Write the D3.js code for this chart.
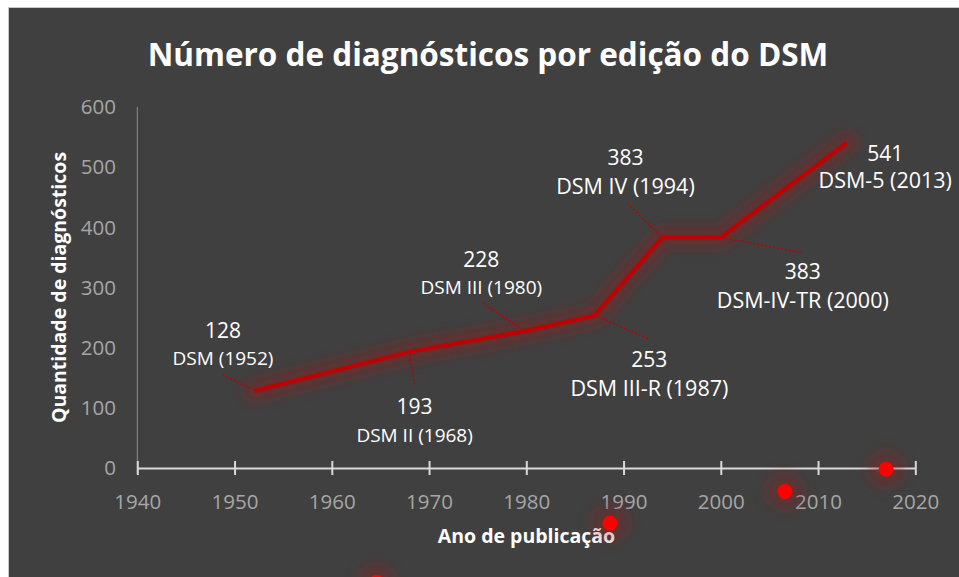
<!DOCTYPE html>
<html>
<head>
<meta charset="utf-8">
<script src="https://cdn.jsdelivr.net/npm/d3@7"></script>
<style>
  body { margin: 0; background: #fff; overflow: hidden; }
  svg { display: block; font-family: "Open Sans", sans-serif; }
</style>
</head>
<body>
<div id="chart"></div>
<script>
// data
var years = [1952, 1968, 1980, 1987, 1994, 2000, 2013];
var counts = [128, 193, 228, 253, 383, 383, 541];
var editions = ["DSM (1952)", "DSM II (1968)", "DSM III (1980)", "DSM III-R (1987)",
                "DSM IV (1994)", "DSM-IV-TR (2000)", "DSM-5 (2013)"];
// stray red markers of the second series
var dotYears = [1964.6, 1988.6, 2006.6, 2017];
var dotValues = [-190, -92, -39, -2];
var xTicks = [1940, 1950, 1960, 1970, 1980, 1990, 2000, 2010, 2020];
var yTicks = [0, 100, 200, 300, 400, 500, 600];

// label placement (pixel offsets from the point): dx, number baseline, name baseline, name size, leader
var labelPos = [
  {dx: -31, ny: -53, ey: -26, fs: 19, lead: [[-31, -16], [-2, -2]]},
  {dx: 5, ny: 62, ey: 90, fs: 19, lead: [[0, 3], [5, 33]]},
  {dx: -45, ny: -64, ey: -37, fs: 19, lead: [[-44, -28], [-3, -1]]},
  {dx: 55, ny: 51, ey: 80, fs: 21.5, lead: [[4, 1], [54, 23]]},
  {dx: -37, ny: -73, ey: -44, fs: 21.5, lead: [[-35, -34], [-2, -2]]},
  {dx: 82, ny: 41, ey: 70, fs: 21.5, lead: [[1, 0], [81, 15]]},
  {dx: 38, ny: 19, ey: 46, fs: 21.5, lead: null}
];

var W = 959, H = 577;
var svg = d3.select("#chart").append("svg")
  .attr("width", W).attr("height", H);

var defs = svg.append("defs");
defs.append("filter").attr("id", "glow")
  .attr("x", "-20%").attr("y", "-20%").attr("width", "140%").attr("height", "140%")
  .append("feGaussianBlur").attr("stdDeviation", 6);
defs.append("filter").attr("id", "dotglow")
  .attr("x", "-100%").attr("y", "-100%").attr("width", "300%").attr("height", "300%")
  .append("feGaussianBlur").attr("stdDeviation", 7);

svg.append("rect")
  .attr("x", 8.5).attr("y", 7.5)
  .attr("width", 1000).attr("height", 1000)
  .attr("fill", "#404040")
  .attr("stroke", "#c8c8c8");

var x = d3.scaleLinear().domain([1940, 2020]).range([137.3, 915.3]);
var y = d3.scaleLinear().domain([0, 600]).range([468, 107]);

// title
svg.append("text")
  .attr("x", 488).attr("y", 66)
  .attr("text-anchor", "middle")
  .attr("font-size", 31.5).attr("font-weight", "bold")
  .attr("fill", "#fff")
  .text("Número de diagnósticos por edição do DSM");

// y axis (line + labels, no ticks)
svg.append("line")
  .attr("x1", x(1940)).attr("x2", x(1940))
  .attr("y1", y(600)).attr("y2", y(0) + 6)
  .attr("stroke", "#8c8c8c").attr("stroke-width", 1);

svg.append("g").selectAll("text").data(yTicks).enter().append("text")
  .attr("x", 116).attr("y", function(d){ return y(d); })
  .attr("dy", "0.35em")
  .attr("text-anchor", "end")
  .attr("font-size", 20.5)
  .attr("fill", "#a6a6a6")
  .text(function(d){ return d; });

// x axis
var xAxis = d3.axisBottom(x)
  .tickValues(xTicks)
  .tickFormat(d3.format("d"))
  .tickSizeInner(7).tickSizeOuter(0).tickPadding(19);
var gx = svg.append("g").attr("transform", "translate(0," + y(0) + ")").call(xAxis);
gx.select(".domain").attr("stroke", "#d9d9d9").attr("stroke-width", 2);
gx.selectAll(".tick line")
  .attr("y1", -7).attr("y2", 7)
  .attr("stroke", "#d9d9d9").attr("stroke-width", 2);
gx.selectAll(".tick text")
  .attr("font-family", "Open Sans, sans-serif")
  .attr("font-size", 20.5)
  .attr("fill", "#a6a6a6");

// axis titles
svg.append("text")
  .attr("transform", "translate(66,287.5) rotate(-90)")
  .attr("text-anchor", "middle")
  .attr("font-size", 19.5).attr("font-weight", "bold")
  .attr("fill", "#fff")
  .text("Quantidade de diagnósticos");

svg.append("text")
  .attr("x", 526.5).attr("y", 542.5)
  .attr("text-anchor", "middle")
  .attr("font-size", 19.5).attr("font-weight", "bold")
  .attr("fill", "#fff")
  .text("Ano de publicação");

// main series
var pts = years.map(function(yr, i){ return [yr, counts[i]]; });
var line = d3.line().x(function(d){ return x(d[0]); }).y(function(d){ return y(d[1]); });

svg.append("path").datum(pts)
  .attr("d", line)
  .attr("fill", "none")
  .attr("stroke", "#a01818")
  .attr("stroke-width", 22)
  .attr("stroke-linejoin", "round")
  .attr("stroke-linecap", "round")
  .attr("opacity", 0.35)
  .attr("filter", "url(#glow)");

svg.append("path").datum(pts)
  .attr("d", line)
  .attr("fill", "none")
  .attr("stroke", "#c00000")
  .attr("stroke-width", 4)
  .attr("stroke-linejoin", "miter");

// leader lines
pts.forEach(function(p, i){
  var lp = labelPos[i];
  if (!lp.lead) return;
  var px = x(p[0]), py = y(p[1]);
  svg.append("line")
    .attr("x1", px + lp.lead[0][0]).attr("y1", py + lp.lead[0][1])
    .attr("x2", px + lp.lead[1][0]).attr("y2", py + lp.lead[1][1])
    .attr("stroke", "#c00000")
    .attr("stroke-width", 1.5)
    .attr("stroke-dasharray", "2,2");
});

// data labels
var lab = svg.append("g").selectAll("g").data(pts).enter().append("g")
  .attr("transform", function(d, i){
    return "translate(" + (x(d[0]) + labelPos[i].dx) + "," + y(d[1]) + ")";
  });
lab.append("text")
  .attr("y", function(d, i){ return labelPos[i].ny; })
  .attr("text-anchor", "middle")
  .attr("font-size", 21)
  .attr("fill", "#fff")
  .text(function(d){ return d[1]; });
lab.append("text")
  .attr("y", function(d, i){ return labelPos[i].ey; })
  .attr("text-anchor", "middle")
  .attr("font-size", function(d, i){ return labelPos[i].fs; })
  .attr("fill", "#fff")
  .text(function(d, i){ return editions[i]; });

// red markers
var dots = dotYears.map(function(yr, i){ return [yr, dotValues[i]]; });
svg.append("g").selectAll("circle").data(dots).enter().append("circle")
  .attr("cx", function(d){ return x(d[0]); })
  .attr("cy", function(d){ return y(d[1]); })
  .attr("r", 18)
  .attr("fill", "#a01818")
  .attr("opacity", 0.35)
  .attr("filter", "url(#dotglow)");
svg.append("g").selectAll("circle").data(dots).enter().append("circle")
  .attr("cx", function(d){ return x(d[0]); })
  .attr("cy", function(d){ return y(d[1]); })
  .attr("r", 7.5)
  .attr("fill", "#ff0000");
</script>
</body>
</html>
